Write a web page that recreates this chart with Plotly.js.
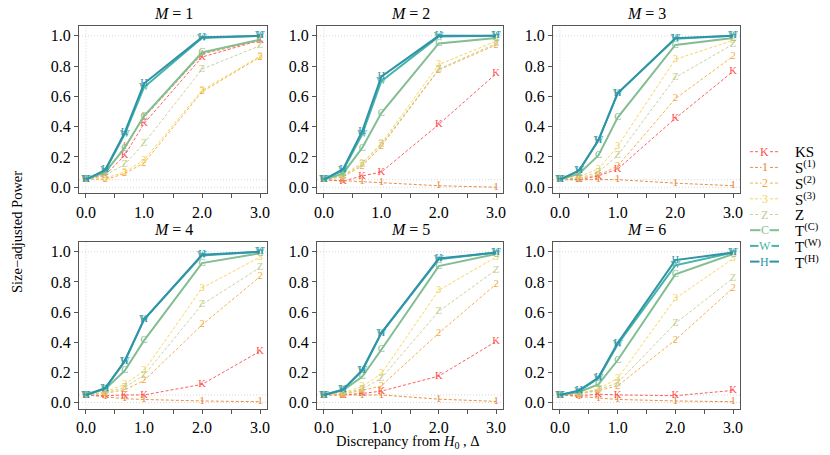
<!DOCTYPE html>
<html>
<head>
<meta charset="utf-8">
<script src="https://cdn.plot.ly/plotly-3.0.1.min.js"></script>
<style>body{margin:0;background:#fff}#myChart{width:830px;height:455px}</style>
</head>
<body>
<div id="myChart"></div>
<script>
// discrepancy values on the x axis
const delta = [0, 1/3, 2/3, 1, 2, 3];
const xTickVals = [0, 1, 2, 3];
const xMinorVals = [0.5, 1.5, 2.5];
const yTickVals = [0, 0.2, 0.4, 0.6, 0.8, 1.0];
const refLevels = [0, 0.05, 1];

const panelM = ['1', '2', '3', '4', '5', '6'];
const methodNames = ['KS', 'S<sup>(1)</sup>', 'S<sup>(2)</sup>', 'S<sup>(3)</sup>', 'Z',
                     'T<sup>(C)</sup>', 'T<sup>(W)</sup>', 'T<sup>(H)</sup>'];
const methodSymbols = ['K', '1', '2', '3', 'Z', 'C', 'W', 'H'];
const methodColours = ['#FF4B4B', '#E9812C', '#F2A93B', '#F6CF4A', '#C3CD8E', '#82BE92', '#45B5A6', '#2F93A9'];

// size-adjusted power, one row per panel M = 1..6
const powerKS = [
  [0.05, 0.08, 0.21, 0.42, 0.86, 0.97],
  [0.05, 0.04, 0.075, 0.10, 0.415, 0.75],
  [0.05, 0.05, 0.075, 0.12, 0.455, 0.765],
  [0.05, 0.045, 0.05, 0.05, 0.12, 0.34],
  [0.05, 0.05, 0.06, 0.075, 0.175, 0.405],
  [0.05, 0.045, 0.055, 0.05, 0.045, 0.08]
];
const powerS1 = [
  [0.05, 0.09, 0.27, 0.46, 0.88, 0.97],
  [0.05, 0.045, 0.04, 0.03, 0.01, 0.0],
  [0.05, 0.05, 0.055, 0.05, 0.027, 0.01],
  [0.05, 0.04, 0.025, 0.02, 0.01, 0.005],
  [0.05, 0.05, 0.05, 0.05, 0.022, 0.007],
  [0.05, 0.04, 0.03, 0.02, 0.01, 0.005]
];
const powerS2 = [
  [0.05, 0.05, 0.09, 0.16, 0.63, 0.86],
  [0.05, 0.07, 0.14, 0.27, 0.775, 0.94],
  [0.05, 0.06, 0.08, 0.14, 0.585, 0.865],
  [0.05, 0.06, 0.085, 0.145, 0.515, 0.835],
  [0.05, 0.055, 0.08, 0.11, 0.46, 0.785],
  [0.05, 0.055, 0.08, 0.11, 0.415, 0.76]
];
const powerS3 = [
  [0.05, 0.06, 0.10, 0.18, 0.64, 0.865],
  [0.05, 0.08, 0.16, 0.29, 0.81, 0.965],
  [0.05, 0.07, 0.12, 0.27, 0.845, 0.97],
  [0.05, 0.07, 0.12, 0.21, 0.76, 0.965],
  [0.05, 0.065, 0.105, 0.19, 0.745, 0.965],
  [0.05, 0.06, 0.09, 0.16, 0.69, 0.955]
];
const powerZ = [
  [0.05, 0.08, 0.15, 0.29, 0.78, 0.935],
  [0.05, 0.075, 0.15, 0.28, 0.78, 0.95],
  [0.05, 0.06, 0.10, 0.21, 0.725, 0.945],
  [0.05, 0.065, 0.10, 0.18, 0.65, 0.895],
  [0.05, 0.06, 0.09, 0.16, 0.605, 0.88],
  [0.05, 0.06, 0.085, 0.13, 0.525, 0.825]
];
const powerTC = [
  [0.05, 0.10, 0.26, 0.47, 0.89, 0.975],
  [0.05, 0.09, 0.26, 0.49, 0.95, 0.985],
  [0.05, 0.09, 0.21, 0.46, 0.94, 0.985],
  [0.05, 0.09, 0.21, 0.41, 0.925, 0.99],
  [0.05, 0.08, 0.17, 0.35, 0.905, 0.985],
  [0.05, 0.07, 0.12, 0.28, 0.85, 0.985]
];
const powerTW = [
  [0.05, 0.11, 0.35, 0.66, 0.985, 1.0],
  [0.05, 0.11, 0.35, 0.70, 0.995, 1.0],
  [0.05, 0.11, 0.31, 0.62, 0.98, 1.0],
  [0.05, 0.095, 0.27, 0.55, 0.975, 1.0],
  [0.05, 0.085, 0.21, 0.46, 0.95, 0.995],
  [0.05, 0.075, 0.16, 0.385, 0.91, 0.995]
];
const powerTH = [
  [0.05, 0.115, 0.36, 0.685, 0.99, 1.0],
  [0.05, 0.12, 0.37, 0.73, 1.0, 1.0],
  [0.05, 0.11, 0.31, 0.62, 0.985, 1.0],
  [0.05, 0.095, 0.275, 0.55, 0.98, 1.0],
  [0.05, 0.085, 0.215, 0.46, 0.955, 0.995],
  [0.05, 0.08, 0.165, 0.395, 0.945, 0.995]
];
const allPower = [powerKS, powerS1, powerS2, powerS3, powerZ, powerTC, powerTW, powerTH];

const serif = "'Liberation Serif', 'Times New Roman', serif";
const W = 830, H = 455;
// panel boxes in pixels: [left, right], [top, bottom]
const colPx = [[79, 267], [317, 503], [553, 740]];
const rowPx = [[26, 193.3], [242, 408.5]];

let data = [];
let layout = {
  width: W, height: H,
  margin: {l: 0, r: 0, t: 0, b: 0},
  paper_bgcolor: 'white',
  plot_bgcolor: 'white',
  font: {family: serif, size: 13, color: '#000'},
  showlegend: false,
  shapes: [],
  annotations: []
};

for (let p = 0; p < 6; p++) {
  const suf = p === 0 ? '' : String(p + 1);
  const col = p % 3, row = Math.floor(p / 3);

  for (let m = 0; m < allPower.length; m++) {
    const solid = m >= 5;
    data.push({
      x: delta,
      y: allPower[m][p],
      xaxis: 'x' + suf,
      yaxis: 'y' + suf,
      type: 'scatter',
      mode: 'lines+text',
      text: delta.map(() => methodSymbols[m]),
      textposition: 'middle center',
      textfont: {family: serif, size: 10.5, color: methodColours[m]},
      line: {color: methodColours[m], width: solid ? 2 : 0.9, dash: solid ? 'solid' : '3px,2px'},
      cliponaxis: false,
      hoverinfo: 'skip'
    });
  }

  layout['xaxis' + suf] = {
    domain: [colPx[col][0] / W, colPx[col][1] / W],
    anchor: 'y' + suf,
    range: [-0.12, 3.12],
    tickmode: 'array', tickvals: xTickVals, tickformat: '.1f',
    ticks: 'outside', ticklen: 4, tickcolor: '#555',
    minor: {tickmode: 'array', tickvals: xMinorVals, ticks: 'outside', ticklen: 4, tickcolor: '#555', showgrid: false},
    showline: true, mirror: true, linecolor: '#555', linewidth: 1,
    showgrid: false, zeroline: false,
    tickfont: {family: serif, size: 16, color: '#000'}
  };
  layout['yaxis' + suf] = {
    domain: [1 - rowPx[row][1] / H, 1 - rowPx[row][0] / H],
    anchor: 'x' + suf,
    range: [-0.04, 1.065],
    tickmode: 'array', tickvals: yTickVals, tickformat: '.1f',
    ticks: 'outside', ticklen: 4, tickcolor: '#555',
    showline: true, mirror: true, linecolor: '#555', linewidth: 1,
    showgrid: false, zeroline: false,
    tickfont: {family: serif, size: 16, color: '#000'}
  };

  // dotted reference lines
  refLevels.forEach(v => {
    layout.shapes.push({type: 'line', xref: 'x' + suf + ' domain', yref: 'y' + suf,
      x0: 0, x1: 1, y0: v, y1: v, layer: 'below',
      line: {color: '#cccccc', width: 0.8, dash: '1px,2px'}});
  });
  layout.shapes.push({type: 'line', xref: 'x' + suf, yref: 'y' + suf + ' domain',
    x0: 0, x1: 0, y0: 0, y1: 1, layer: 'below',
    line: {color: '#cccccc', width: 0.8, dash: '1px,2px'}});

  layout.annotations.push({
    text: '<i>M</i> = ' + panelM[p],
    xref: 'paper', yref: 'paper',
    x: (colPx[col][0] + colPx[col][1]) / 2 / W,
    y: 1 - (rowPx[row][0] - 2) / H,
    xanchor: 'center', yanchor: 'bottom', showarrow: false,
    font: {family: serif, size: 16, color: '#000'}
  });
}

// axis titles
layout.annotations.push({
  text: 'Discrepancy from <i>H</i><sub>0</sub> , Δ',
  xref: 'paper', yref: 'paper', x: 408 / W, y: 1 - 442 / H,
  xanchor: 'center', yanchor: 'middle', showarrow: false,
  font: {family: serif, size: 14.5, color: '#000'}
});
layout.annotations.push({
  text: 'Size\u2212adjusted Power',
  xref: 'paper', yref: 'paper', x: 17 / W, y: 1 - 232 / H,
  xanchor: 'center', yanchor: 'middle', textangle: -90, showarrow: false,
  font: {family: serif, size: 14.5, color: '#000'}
});

// legend on the right
const legTop = 151.7, legStep = 15.7;
methodNames.forEach((name, m) => {
  const yy = 1 - (legTop + m * legStep) / H;
  const solid = m >= 5;
  layout.shapes.push({type: 'line', xref: 'paper', yref: 'paper',
    x0: 750 / W, x1: 779 / W, y0: yy, y1: yy,
    line: {color: methodColours[m], width: solid ? 2 : 0.9, dash: solid ? 'solid' : '3px,2px'}});
  layout.annotations.push({
    text: methodSymbols[m], xref: 'paper', yref: 'paper', x: 764.5 / W, y: yy,
    xanchor: 'center', yanchor: 'middle', showarrow: false, bgcolor: 'white', borderpad: 0,
    font: {family: serif, size: 12, color: methodColours[m]}
  });
  layout.annotations.push({
    text: name, xref: 'paper', yref: 'paper', x: 793 / W, y: yy,
    xanchor: 'left', yanchor: 'middle', showarrow: false,
    font: {family: serif, size: 15, color: '#000'}
  });
});

Plotly.newPlot('myChart', data, layout, {displayModeBar: false, staticPlot: true});
</script>
</body>
</html>
